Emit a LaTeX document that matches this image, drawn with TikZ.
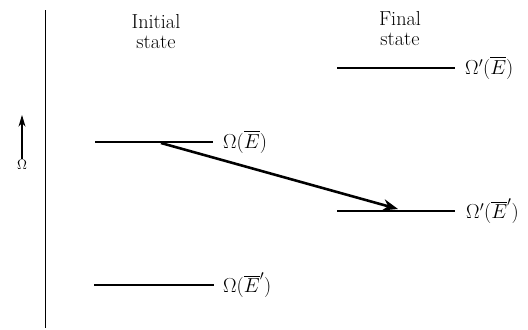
\documentclass[tikz,border=0pt]{standalone}
\usepackage{amsmath}
\usetikzlibrary{arrows.meta}
\begin{document}
\begin{tikzpicture}[x=0.03cm,y=-0.03cm,>=Stealth,
    level/.style={line width=1.3pt},
    lbl/.style={anchor=west,font=\LARGE,inner sep=0pt},
    head/.style={anchor=north,align=center,font=\LARGE,inner sep=0pt}]
  \useasboundingbox (0,0) rectangle (528,329);
  % axis
  \draw[line width=0.6pt] (45,10)--(45,328);
  \node[font=\large,inner sep=1pt] (omega) at (22,165) {$\Omega$};
  \coordinate (up) at (22,115);
  \draw[-{Stealth[length=10pt,width=6pt]},line width=0.9pt] (omega.north)--(up);
  % headings
  \node[head] (init) at (156,14) {Initial\\[-5pt]state};
  \node[head] (fin) at (400,11) {Final\\[-5pt]state};
  % levels
  \draw[level] (95,142)--(213,142);
  \node[lbl] (iE) at (223,142) {$\Omega(\overline{E})$};
  \draw[level] (94,285)--(214,285);
  \node[lbl] (iEp) at (223,285) {$\Omega(\overline{E}')$};
  \draw[level] (337,68)--(455,68);
  \node[lbl] (fE) at (465,68) {$\Omega'(\overline{E})$};
  \draw[level] (337,211)--(455,211);
  \node[lbl] (fEp) at (466,211) {$\Omega'(\overline{E}')$};
  % transition
  \coordinate (from) at (161,143);
  \coordinate (to) at (398,209);
  \draw[->,line width=2.2pt] (from)--(to);
\end{tikzpicture}
\end{document}
